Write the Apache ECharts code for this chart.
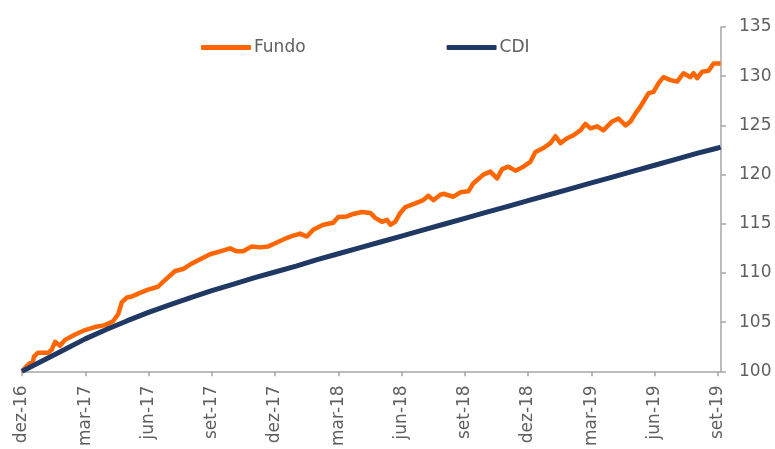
<!DOCTYPE html>
<html>
<head>
<meta charset="utf-8">
<script src="https://cdn.jsdelivr.net/npm/echarts@6/dist/echarts.min.js"></script>
<style>
html,body{margin:0;padding:0;background:#fff;}
#chart{width:775px;height:449px;}
</style>
</head>
<body>
<div id="chart"></div>
<script>
// x values are months elapsed since dez-16
var tickLabels = ['dez-16','mar-17','jun-17','set-17','dez-17','mar-18','jun-18','set-18','dez-18','mar-19','jun-19','set-19'];

var fundoMonths = [0,0.30,0.52,0.57,0.76,1.23,1.41,1.57,1.80,2.04,2.52,2.99,3.46,3.94,4.32,4.56,4.73,4.97,5.21,5.51,5.98,6.45,6.69,7.26,7.64,7.97,8.45,8.92,9.40,9.87,10.19,10.49,10.90,11.30,11.68,12.09,12.39,12.72,13.19,13.51,13.81,14.29,14.76,15.00,15.41,15.71,16.12,16.52,16.75,17.07,17.31,17.47,17.70,17.94,18.18,18.56,19.03,19.27,19.51,19.84,19.98,20.46,20.79,21.17,21.40,21.88,22.21,22.53,22.77,23.07,23.40,23.78,24.11,24.35,24.73,25.06,25.30,25.54,25.85,26.15,26.48,26.72,26.96,27.28,27.57,27.99,28.29,28.62,28.86,29.09,29.33,29.47,29.71,29.95,30.19,30.42,30.76,31.07,31.37,31.70,31.85,32.02,32.26,32.56,32.80,33.13];
var fundoValues = [100,100.7,101.0,101.5,101.9,101.9,102.2,103.0,102.6,103.2,103.75,104.2,104.5,104.7,105.1,105.8,107.0,107.5,107.6,107.9,108.3,108.6,109.1,110.2,110.4,110.85,111.4,111.9,112.2,112.5,112.2,112.2,112.7,112.6,112.7,113.1,113.4,113.7,114.0,113.7,114.4,114.9,115.1,115.7,115.75,116.0,116.2,116.1,115.6,115.2,115.4,114.9,115.2,116.1,116.7,117.0,117.4,117.85,117.4,117.95,118.05,117.75,118.2,118.3,119.1,120.0,120.3,119.6,120.55,120.8,120.4,120.8,121.3,122.3,122.7,123.2,123.9,123.2,123.7,124.0,124.5,125.15,124.7,124.9,124.5,125.4,125.7,125.0,125.4,126.2,126.9,127.4,128.25,128.4,129.3,129.9,129.6,129.45,130.3,129.9,130.3,129.8,130.45,130.55,131.3,131.3];

var cdiMonths = [0,1,2,3,4,5,6,7,8,9,10,11,12,13,14,15,16,17,18,19,20,21,22,23,24,25,26,27,28,29,30,31,32,33,33.13];
var cdiValues = [100,101.1,102.2,103.3,104.25,105.15,106.0,106.75,107.5,108.2,108.85,109.5,110.1,110.7,111.35,111.95,112.55,113.15,113.75,114.35,114.95,115.55,116.15,116.75,117.35,117.95,118.55,119.15,119.75,120.35,120.95,121.55,122.15,122.7,122.8];

function pairs(xs, ys){ return xs.map(function(x,i){ return [x, ys[i]]; }); }
var tickValues = tickLabels.map(function(_, i){ return i*3; });

var font = 'DejaVu Sans, Verdana, sans-serif';
var textColor = '#606060';
var axisColor = '#A6A6A6';

var chart = echarts.init(document.getElementById('chart'), null, {renderer:'canvas'});
chart.setOption({
  animation: false,
  backgroundColor: '#ffffff',
  textStyle: {fontFamily: font},
  grid: {left: 22, right: 54, top: 27, bottom: 76, containLabel: false},
  legend: {
    left: 196, top: 34,
    itemWidth: 50, itemHeight: 5, itemGap: 141,
    icon: 'roundRect',
    textStyle: {fontFamily: font, fontSize: 17, color: textColor, padding:[0,0,0,-2]},
    data: ['Fundo','CDI']
  },
  xAxis: {
    type: 'value', min: 0, max: 33.15, interval: 3,
    splitLine: {show: false},
    axisLine: {onZero: false, lineStyle: {color: axisColor, width: 1.5}},
    axisTick: {show: true, length: 5, lineStyle: {color: axisColor, width: 1.5}, customValues: tickValues},
    axisLabel: {
      rotate: 90, margin: 14, fontSize: 17, color: textColor, fontFamily: font,
      customValues: tickValues,
      formatter: function(v){ var i = Math.round(v/3); return (Math.abs(v - i*3) < 1e-6 && tickLabels[i]) ? tickLabels[i] : ''; }
    }
  },
  yAxis: {
    type: 'value', position: 'right', min: 100, max: 135, interval: 5,
    splitLine: {show: false},
    axisLine: {show: true, onZero: false, lineStyle: {color: axisColor, width: 1.5}},
    axisTick: {show: true, length: 5, lineStyle: {color: axisColor, width: 1.5}},
    axisLabel: {margin: 18, fontSize: 17, color: textColor, fontFamily: font}
  },
  series: [
    {
      name: 'Fundo', type: 'line', data: pairs(fundoMonths, fundoValues),
      showSymbol: false, symbol: 'none',
      lineStyle: {color: '#FF6600', width: 4.5, join: 'round'},
      itemStyle: {color: '#FF6600'}
    },
    {
      name: 'CDI', type: 'line', data: pairs(cdiMonths, cdiValues),
      showSymbol: false, symbol: 'none',
      lineStyle: {color: '#1F3864', width: 5},
      itemStyle: {color: '#1F3864'}
    }
  ]
});
</script>
</body>
</html>
